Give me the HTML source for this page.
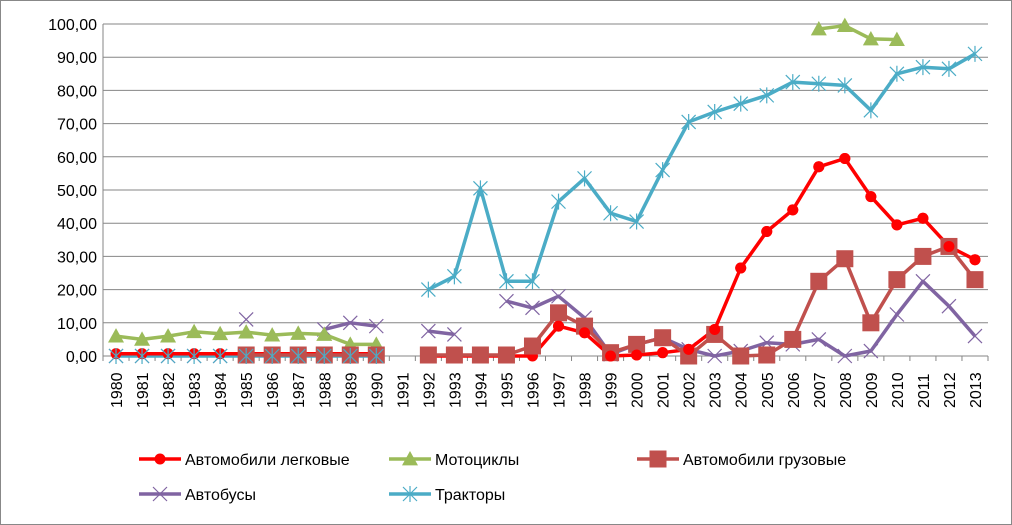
<!DOCTYPE html>
<html><head><meta charset="utf-8"><style>
html,body{margin:0;padding:0;background:#fff}
svg{display:block;font-family:"Liberation Sans",sans-serif}
</style></head><body>
<svg id="c" width="1012" height="525" xmlns="http://www.w3.org/2000/svg">
<rect x="0.5" y="0.5" width="1011" height="524" fill="#fff" stroke="#888"/>
</svg>
<script>
const s=document.getElementById('c');const NS='http://www.w3.org/2000/svg';
function el(t,a,txt){const e=document.createElementNS(NS,t);for(const k in a)e.setAttribute(k,a[k]);if(txt!=null)e.textContent=txt;s.appendChild(e);return e;}
const L=103,R=988,Y0=356,SC=3.32,W=(R-L)/34;
const X=i=>L+W*(i+0.5),Y=v=>Y0-v*SC;
for(let v=0;v<=100;v+=10){el('line',{x1:L,x2:R,y1:Y(v),y2:Y(v),stroke:'#868686','stroke-width':1});
el('text',{x:97,y:Y(v)+6,'text-anchor':'end','font-size':16,fill:'#000'},v.toFixed(2).replace('.',','));}
el('line',{x1:L,x2:L,y1:Y(100),y2:Y0+5,stroke:'#868686'});
for(let i=0;i<=34;i++)el('line',{x1:L+W*i,x2:L+W*i,y1:Y0,y2:Y0+5,stroke:'#868686'});
for(let i=0;i<34;i++){const x=X(i)+6;el('text',{x:x,y:408,'font-size':16,transform:`rotate(-90 ${x} 408)`},String(1980+i));}
const n=null;
const red=[0.7,0.7,0.7,0.7,0.7,0.7,0.7,0.7,0.7,0.7,0.7,n,0,0,0,0,0,9,7,0,0.3,1,2,8,26.5,37.5,44,57,59.5,48,39.5,41.5,33,29];
const green=[6,5,6,7.3,6.7,7.2,6.3,6.8,6.5,3.5,3.5,n,n,n,n,n,n,n,n,n,n,n,n,n,n,n,n,98.5,99.5,95.5,95.3,n,n,n];
const brown=[n,n,n,n,n,0.3,0.3,0.3,0.3,0.3,0.3,n,0.3,0.3,0.3,0.3,3,13,9,1,3.5,5.5,0,6.5,0,0.3,5,22.5,29.3,10,23,30,33,23];
const purple=[0,0,0,0,0,11,0,0,8,10,9,n,7.5,6.5,n,16.5,14.5,18,11.5,0.5,3.5,5.5,2,0,1.5,4,3.5,5,0,1.5,12.5,22.5,15,6];
const blue=[0,0,0,0,0,0,0,0,0,0,0,n,20,24,50.5,22.5,22.5,46.5,53.5,43,40.5,56,70.5,73.5,76,78.5,82.5,82,81.5,74,85,87,86.5,91];
function line(d,col,w){let p='';let pen=false;d.forEach((v,i)=>{if(v==null){pen=false;return;}p+=(pen?'L':'M')+X(i).toFixed(1)+' '+Y(v).toFixed(1);pen=true;});el('path',{d:p,fill:'none',stroke:col,'stroke-width':w,'stroke-linejoin':'round'});}
function star(x,y,col,r){el('path',{d:`M${x-r} ${y-r}L${x+r} ${y+r}M${x-r} ${y+r}L${x+r} ${y-r}M${x} ${y-r-1}L${x} ${y+r+1}`,stroke:col,'stroke-width':1.2,fill:'none'});}
function xm(x,y,col,r){el('path',{d:`M${x-r} ${y-r}L${x+r} ${y+r}M${x-r} ${y+r}L${x+r} ${y-r}`,stroke:col,'stroke-width':1.2,fill:'none'});}
function tri(x,y,col,r){el('path',{d:`M${x} ${y-r}L${x+r} ${y+r*0.8}L${x-r} ${y+r*0.8}Z`,fill:col});}
function sq(x,y,col,r){el('rect',{x:x-r,y:y-r,width:2*r,height:2*r,fill:col});}
function dot(x,y,col,r){el('circle',{cx:x,cy:y,r:r,fill:col});}
const pArr=purple.map((v,i)=>(i<8)?null:v);
line(blue,'#4bacc6',3.5);line(pArr,'#8064a2',3.5);
purple.forEach((v,i)=>{if(v!=null)xm(X(i),Y(v),'#8064a2',7);});
line(green,'#9bbb59',3.5);green.forEach((v,i)=>{if(v!=null)tri(X(i),Y(v),'#9bbb59',8);});
line(red,'#ff0000',3.5);red.forEach((v,i)=>{if(v!=null)dot(X(i),Y(v),'#ff0000',5.5);});
line(brown,'#c0504d',3.5);brown.forEach((v,i)=>{if(v!=null)sq(X(i),Y(v),'#c0504d',8.5);});
red.forEach((v,i)=>{if(v!=null&&i>16)dot(X(i),Y(v),'#ff0000',5.5);});
blue.forEach((v,i)=>{if(v!=null)star(X(i),Y(v),'#4bacc6',7);});
function leg(x,y,col,m,t){el('line',{x1:x,x2:x+42,y1:y,y2:y,stroke:col,'stroke-width':3.5});m(x+21,y,col);el('text',{x:x+46,y:y+6,'font-size':16},t);}
leg(139,459,'#ff0000',(x,y,c)=>dot(x,y,c,5.5),'Автомобили легковые');
leg(389,459,'#9bbb59',(x,y,c)=>tri(x,y,c,8),'Мотоциклы');
leg(637,459,'#c0504d',(x,y,c)=>sq(x,y,c,8.5),'Автомобили грузовые');
leg(139,494,'#8064a2',(x,y,c)=>xm(x,y,c,7),'Автобусы');
leg(389,494,'#4bacc6',(x,y,c)=>star(x,y,c,7),'Тракторы');
</script>
</body></html>
